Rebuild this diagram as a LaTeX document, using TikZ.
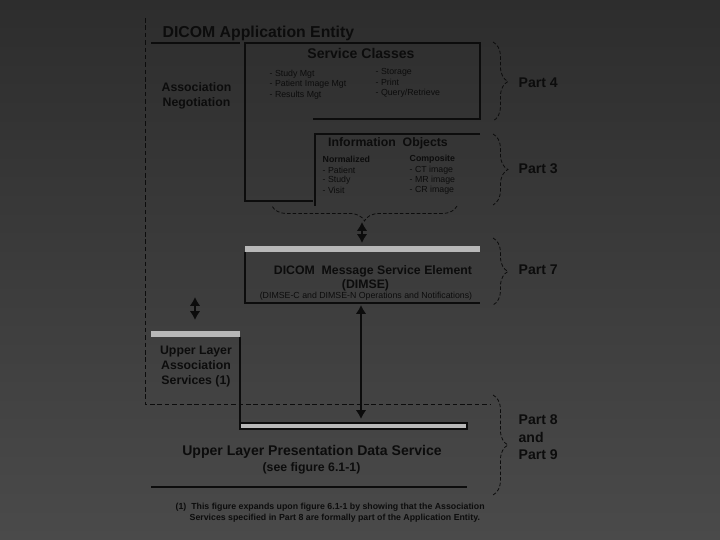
\documentclass[tikz,border=0pt]{standalone}
\usepackage{fontspec}
\setmainfont{Liberation Sans}
\usetikzlibrary{arrows.meta,positioning,decorations.pathreplacing,calc}
\definecolor{bgtop}{HTML}{2d2d2d}
\definecolor{bgmid}{HTML}{424242}
\definecolor{bgbottom}{HTML}{4a4a4a}
\definecolor{inkcol}{HTML}{0c0c0c}
\definecolor{barcol}{HTML}{b8b8b8}

\begin{document}
\begin{tikzpicture}[x=0.02cm, y=-0.02cm, inkcol, line width=0.75pt,
  boxhead/.style={font=\bfseries\fontsize{8}{9.5}\selectfont},
  subhead/.style={font=\bfseries\fontsize{7}{8.6}\selectfont},
  listitem/.style={anchor=west, inner sep=0pt, font=\fontsize{5}{6}\selectfont},
  listhead/.style={anchor=west, inner sep=0pt, font=\bfseries\fontsize{5}{6}\selectfont},
  partlabel/.style={anchor=west, inner sep=0pt, align=left, font=\bfseries\fontsize{8}{9.9}\selectfont},
  dblarrow/.style={{Latex[length=5pt,width=6pt]}-{Latex[length=5pt,width=6pt]}, line width=1.4pt},
  partbrace/.style={decorate, decoration={brace, amplitude=8.5pt}, line width=0.45pt, dash pattern=on 2pt off 1.2pt},
  greybar/.style={fill=barcol}]
\shade[top color=bgtop, middle color=bgmid, bottom color=bgbottom] (0,0) rectangle (720,540);
\useasboundingbox (0,0) rectangle (720,540);

\draw[line width=0.5pt, dash pattern=on 2.6pt off 1.6pt] (145,18) -- (145,404) -- (490,404);

\node[anchor=west, inner sep=0pt, font=\bfseries\fontsize{9}{11}\selectfont] (aetitle) at (162,33) {DICOM Application Entity};
\draw (151,43) -- (240,43);
\node[subhead, align=center] (assocneg) at (196.5,95.5) {Association\\Negotiation};

\draw (313,119) -- (480,119) -- (480,43) -- (245,43) -- (245,201) -- (313,201);
\node[boxhead] (svcclasses) at (361,53.5) {Service Classes};
\foreach \i/\txt in {0/Study Mgt,1/Patient Image Mgt,2/Results Mgt}{
  \node[listitem] (svcL\i) at (269,{74+\i*10.5}) {- \txt};
}
\foreach \i/\txt in {0/Storage,1/Print,2/{Query/Retrieve}}{
  \node[listitem] (svcR\i) at (375,{72.5+\i*10.3}) {- \txt};
}

\draw (480,134) -- (315,134) -- (315,206);
\node[subhead] (infoobj) at (388,143.5) {Information~ Objects};
\node[listhead] (normalized) at (322,159) {Normalized};
\foreach \i/\txt in {0/Patient,1/Study,2/Visit}{
  \node[listitem] (norm\i) at (322,{170+\i*10.3}) {- \txt};
}
\node[listhead] (composite) at (409,159) {Composite};
\foreach \i/\txt in {0/CT,1/MR,2/CR}{
  \node[listitem] (comp\i) at (409,{170+\i*10.3}) {- \txt\ image};
}
\draw[partbrace] (457,206) -- (272,206);

\coordinate (iotip) at (362,222);
\coordinate (dimsetop) at (362,243);
\draw[dblarrow] (iotip) -- (dimsetop);

\fill[greybar] (245,246) rectangle (480,252);
\draw (245,252) -- (245,303) -- (480,303);
\node[subhead] (dimse) at (373,271) {DICOM~ Message Service Element};
\node[subhead] (dimseabbr) at (365.5,285) {(DIMSE)};
\node[font=\fontsize{5}{6}\selectfont] (dimseops) at (366,296) {(DIMSE-C and DIMSE-N Operations and Notifications)};

\coordinate (aeleft) at (195,297);
\coordinate (ulastop) at (195,320);
\draw[dblarrow] (aeleft) -- (ulastop);

\fill[greybar] (151,331) rectangle (240,337);
\draw (240,337) -- (240,423);
\node[subhead, align=center] (ulas) at (196,366.5) {Upper Layer\\Association\\Services (1)};

\coordinate (dimsebot) at (361,305);
\coordinate (pdstop) at (361,419);
\draw[dblarrow] (dimsebot) -- (pdstop);

\draw[greybar] (240,423) rectangle (467,429);
\node[boxhead] (ulpds) at (312,451.5) {Upper Layer Presentation Data Service};
\node[subhead] (seefig) at (311.5,468.5) {(see figure 6.1-1)};
\draw (151,487) -- (467,487);

\draw[partbrace] (493,42) -- (493,121);
\node[partlabel] (part4) at (518,83) {Part 4};
\draw[partbrace] (493,134) -- (493,205);
\node[partlabel] (part3) at (518,168.5) {Part 3};
\draw[partbrace] (493,238) -- (493,305);
\node[partlabel] (part7) at (518,270) {Part 7};
\draw[partbrace] (493,395) -- (493,495);
\node[partlabel] (part89) at (518,437.5) {Part 8\\and\\Part 9};

\node[listhead] (fnote1) at (175,507.5) {(1)~~This figure expands upon figure 6.1-1 by showing that the Association};
\node[listhead] (fnote2) at (189,518.5) {Services specified in Part 8 are formally part of the Application Entity.};
\end{tikzpicture}
\end{document}
